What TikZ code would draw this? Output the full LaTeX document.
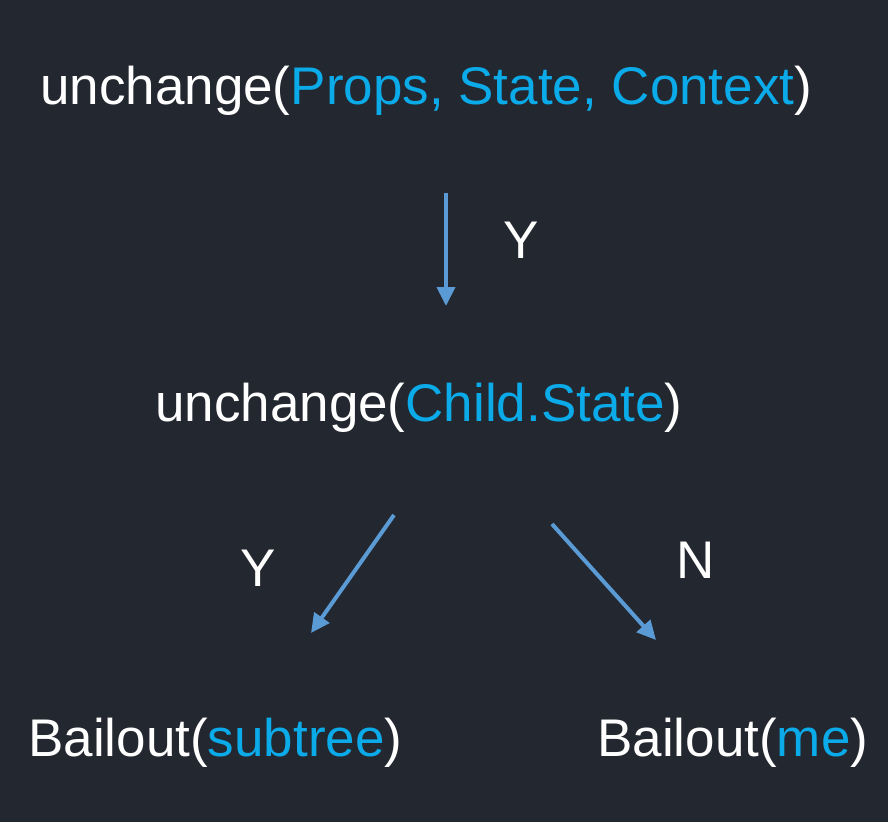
\documentclass[tikz,border=0pt]{standalone}
\usepackage{fontspec}
\setmainfont{Liberation Sans}
\usetikzlibrary{arrows.meta}
\definecolor{bg}{HTML}{23272F}
\definecolor{hl}{HTML}{0BAAE9}
\definecolor{arr}{HTML}{5B9BD5}
\tikzset{
  lbl/.style={text=white,inner sep=0pt,font=\fontsize{53}{60}\selectfont},
  conn/.style={draw=arr,line width=4pt,-{Triangle[length=19pt,width=18pt]}}
}
\begin{document}
\begin{tikzpicture}[x=1pt,y=-1pt]
\fill[bg] (0,0) rectangle (888,822);
\useasboundingbox (0,0) rectangle (888,822);
\node[lbl,anchor=base west] (top) at (40,104) {unchange(\textcolor{hl}{Props, State, Context})};
\node[lbl,anchor=base west] (mid) at (155,421) {unchange(\textcolor{hl}{Child.State})};
\node[lbl,anchor=base west] (bl) at (28,756) {Bailout(\textcolor{hl}{subtree})};
\node[lbl,anchor=base west] (br) at (597,756) {Bailout(\textcolor{hl}{me})};
\node[lbl] (y1) at (521,240) {Y};
\node[lbl] (y2) at (258,568) {Y};
\node[lbl] (n1) at (696,560) {N};
\coordinate (a1s) at (446,193);
\coordinate (a1e) at (446,306);
\coordinate (a2s) at (394,515);
\coordinate (a2e) at (311,633);
\coordinate (a3s) at (552,524);
\coordinate (a3e) at (656,640);
\draw[conn] (a1s) -- (a1e);
\draw[conn] (a2s) -- (a2e);
\draw[conn] (a3s) -- (a3e);
\end{tikzpicture}
\end{document}
